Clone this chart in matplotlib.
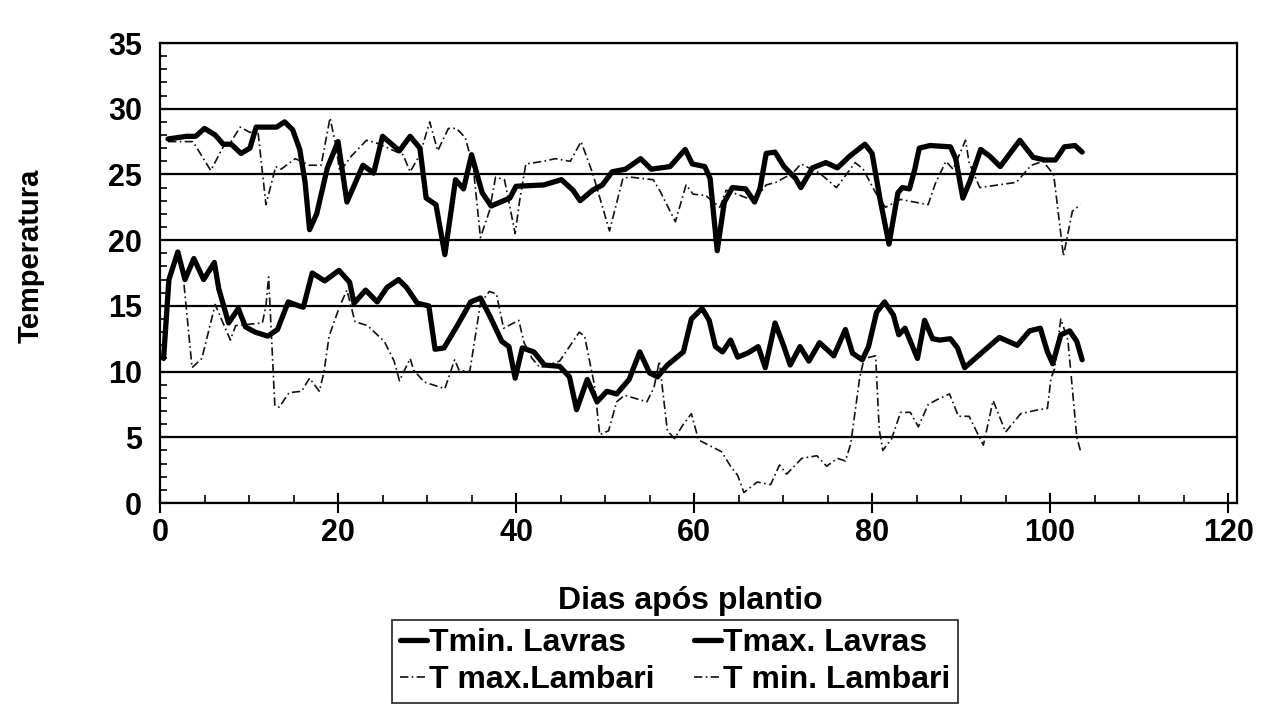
import matplotlib
matplotlib.use('Agg')
import matplotlib.pyplot as plt
from matplotlib.ticker import MultipleLocator

plt.rcParams['font.family'] = ['Liberation Sans', 'DejaVu Sans']
plt.rcParams['font.weight'] = 'bold'

# Tmax. Lavras (thick line, upper band)
tmax_lav_day = [0.9, 3.0, 4.0, 5.0, 6.2, 7.1, 8.0, 9.1, 10.1, 10.8, 13.1, 14.0, 14.9, 15.7,
                16.3, 16.8, 17.6, 18.8, 20.0, 21.0, 22.8, 24.0, 25.0, 26.9, 28.1, 29.2, 29.9,
                31.0, 32.0, 33.2, 34.1, 35.0, 36.2, 37.2, 39.3, 40.0, 43.1, 45.1, 46.4, 47.2,
                48.6, 49.7, 50.8, 52.3, 54.0, 55.2, 57.3, 59.0, 59.8, 61.2, 61.8, 62.6, 63.4,
                64.3, 65.8, 66.8, 67.4, 68.1, 69.1, 70.1, 71.4, 72.0, 73.3, 74.8, 76.1, 77.5,
                79.2, 80.0, 80.9, 81.9, 82.9, 83.4, 84.2, 84.8, 85.3, 86.5, 88.8, 89.4, 90.2,
                91.0, 92.2, 93.2, 94.4, 96.6, 98.1, 99.4, 100.6, 101.6, 102.8, 103.6]
tmax_lav = [27.7, 27.9, 27.9, 28.5, 28.0, 27.3, 27.3, 26.6, 27.0, 28.6, 28.6, 29.0, 28.4, 26.9,
            24.4, 20.8, 22.0, 25.5, 27.5, 22.9, 25.7, 25.1, 27.9, 26.8, 27.9, 27.0, 23.2,
            22.7, 18.9, 24.6, 23.9, 26.5, 23.6, 22.6, 23.2, 24.1, 24.2, 24.6, 23.8, 23.0,
            23.8, 24.2, 25.2, 25.4, 26.2, 25.4, 25.6, 26.9, 25.8, 25.6, 24.7, 19.2, 22.9,
            24.0, 23.9, 22.9, 23.9, 26.6, 26.7, 25.6, 24.7, 24.0, 25.5, 25.9, 25.5, 26.4,
            27.3, 26.6, 23.1, 19.7, 23.6, 24.0, 23.9, 25.4, 27.0, 27.2, 27.1, 26.2, 23.2,
            24.5, 26.9, 26.4, 25.6, 27.6, 26.3, 26.1, 26.1, 27.1, 27.2, 26.7]

# Tmin. Lavras (thick line, lower band)
tmin_lav_day = [0.4, 1.0, 2.0, 2.8, 3.8, 4.9, 6.1, 6.6, 7.7, 8.8, 9.6, 10.7, 12.1, 13.2, 14.4,
                15.6, 16.1, 17.1, 18.5, 20.1, 21.3, 21.8, 23.1, 24.4, 25.5, 26.8, 27.7, 28.9,
                30.2, 30.9, 31.9, 33.4, 34.9, 36.0, 37.0, 38.4, 39.2, 39.9, 40.7, 42.0, 43.2,
                44.9, 46.0, 46.8, 48.0, 49.1, 50.2, 51.3, 52.7, 53.9, 55.0, 55.9, 57.0, 58.8,
                59.7, 60.9, 61.7, 62.4, 63.2, 64.1, 64.9, 66.0, 67.2, 68.0, 69.1, 70.1, 70.8,
                71.9, 72.9, 74.1, 75.7, 77.0, 77.8, 78.9, 79.6, 80.5, 81.4, 82.4, 83.0, 83.7,
                85.1, 85.9, 86.8, 87.6, 88.8, 89.6, 90.4, 92.6, 94.3, 96.3, 97.7, 98.9, 99.7,
                100.3, 101.2, 102.2, 103.0, 103.6]
tmin_lav = [11.0, 17.0, 19.1, 17.0, 18.6, 17.0, 18.3, 16.3, 13.7, 14.8, 13.4, 13.0, 12.7, 13.2,
            15.3, 15.0, 14.9, 17.5, 16.9, 17.7, 16.8, 15.2, 16.2, 15.3, 16.4, 17.0, 16.4, 15.2,
            15.0, 11.7, 11.8, 13.5, 15.3, 15.6, 14.3, 12.3, 11.9, 9.5, 11.8, 11.5, 10.5,
            10.4, 9.6, 7.1, 9.4, 7.7, 8.5, 8.3, 9.4, 11.5, 9.9, 9.6, 10.5, 11.5,
            14.0, 14.8, 13.9, 11.9, 11.5, 12.4, 11.1, 11.4, 11.9, 10.3, 13.7, 11.9, 10.5,
            11.9, 10.8, 12.2, 11.2, 13.2, 11.4, 10.9, 11.9, 14.5, 15.3, 14.3, 12.8, 13.3,
            11.0, 13.9, 12.5, 12.4, 12.5, 11.8, 10.3, 11.6, 12.6, 12.0, 13.1, 13.3, 11.5,
            10.6, 12.8, 13.1, 12.3, 10.9]

# T max. Lambari (thin dash-dot, upper band)
tmax_lam_day = [0.9, 3.7, 5.7, 7.1, 7.9, 9.0, 10.1, 11.0, 11.9, 13.0, 13.6, 15.2, 16.8, 18.1,
                19.1, 19.7, 20.2, 21.5, 23.2, 24.3, 27.3, 28.1, 29.2, 30.3, 31.2, 32.4, 33.3,
                34.3, 35.2, 36.0, 37.0, 37.7, 38.7, 39.9, 40.4, 41.1, 43.1, 44.4, 46.1, 47.3,
                48.6, 50.5, 52.0, 52.8, 55.4, 56.2, 57.9, 59.1, 59.9, 61.3, 62.9, 63.6, 65.2,
                66.7, 68.1, 69.2, 71.1, 72.0, 74.1, 76.0, 78.1, 79.0, 80.4, 81.5, 83.2, 86.3,
                87.1, 88.3, 89.1, 90.5, 90.9, 92.1, 96.2, 97.9, 99.2, 100.4, 101.5, 102.5, 103.4]
tmax_lam = [27.5, 27.5, 25.3, 27.1, 27.4, 28.6, 28.2, 28.3, 22.7, 25.6, 25.4, 26.2, 25.7, 25.7,
            29.3, 27.4, 25.2, 26.4, 27.6, 27.4, 26.5, 25.2, 26.5, 29.0, 26.8, 28.5, 28.5,
            27.8, 25.5, 20.2, 22.2, 24.8, 24.6, 20.5, 23.0, 25.8, 26.0, 26.2, 26.0, 27.5,
            25.1, 20.7, 24.7, 24.8, 24.6, 23.7, 21.4, 24.2, 23.5, 23.4, 22.5, 23.8, 23.4,
            23.0, 24.2, 24.4, 25.1, 25.8, 25.1, 24.0, 25.9, 25.4, 23.6, 22.5, 23.1, 22.7,
            24.3, 26.0, 25.4, 27.6, 25.9, 24.0, 24.4, 25.7, 26.0, 25.0, 18.8, 22.2, 22.7]

# T min. Lambari (thin dash-dot, lower band)
tmin_lam_day = [2.7, 3.6, 4.7, 6.2, 7.9, 8.5, 11.5, 11.9, 12.2, 12.9, 13.4, 14.5, 15.9, 16.8,
                17.9, 18.4, 19.0, 20.2, 21.0, 21.9, 23.3, 25.2, 26.3, 26.9, 28.1, 28.5, 29.7,
                32.0, 33.1, 33.6, 34.8, 36.0, 37.0, 37.8, 38.6, 40.3, 40.9, 41.8, 42.7, 44.9,
                47.1, 47.7, 48.8, 49.4, 50.4, 51.3, 52.2, 54.7, 55.5, 56.1, 56.4, 57.0, 57.8,
                58.8, 59.7, 60.5, 63.1, 64.1, 64.9, 65.6, 67.1, 68.6, 69.6, 70.4, 72.1, 73.8,
                74.9, 76.1, 77.0, 77.6, 78.6, 79.1, 80.4, 80.8, 81.2, 82.2, 83.2, 84.3, 85.2,
                86.3, 87.4, 88.7, 89.7, 90.9, 92.5, 93.6, 95.0, 96.7, 98.7, 99.7, 100.1, 100.5,
                101.2, 102.0, 103.0, 103.4]
tmin_lam = [16.6, 10.3, 11.0, 15.1, 12.4, 13.5, 13.7, 15.0, 17.2, 7.4, 7.3, 8.4, 8.5, 9.5,
            8.5, 9.9, 12.7, 15.0, 16.2, 13.8, 13.5, 12.3, 10.8, 9.3, 11.0, 10.1, 9.2,
            8.7, 10.9, 10.1, 10.0, 15.2, 16.1, 15.9, 13.3, 13.9, 12.2, 11.0, 10.3, 10.8,
            13.0, 12.7, 9.0, 5.2, 5.5, 7.7, 8.2, 7.7, 8.8, 10.8, 9.0, 5.5, 4.9,
            6.0, 6.8, 4.8, 3.9, 2.8, 2.1, 0.8, 1.6, 1.4, 2.9, 2.2, 3.4, 3.6,
            2.8, 3.4, 3.2, 4.5, 9.5, 11.0, 11.2, 5.6, 4.0, 4.9, 6.9, 6.9, 5.8,
            7.5, 7.9, 8.3, 6.6, 6.6, 4.4, 7.8, 5.4, 6.8, 7.1, 7.2, 9.5, 10.2,
            14.0, 12.4, 5.0, 4.0]

fig = plt.figure(figsize=(12.62, 7.24), dpi=100)
ax = fig.add_axes([0.1268, 0.3052, 0.8534, 0.6354])

dashdot = (0, (5, 2, 1, 2))
l_tmax_lam, = ax.plot(tmax_lam_day, tmax_lam, color='#111111', lw=1.2, ls=dashdot,
                      label='T max.Lambari')
l_tmin_lam, = ax.plot(tmin_lam_day, tmin_lam, color='#111111', lw=1.2, ls=dashdot,
                      label='T min. Lambari')
l_tmin_lav, = ax.plot(tmin_lav_day, tmin_lav, color='black', lw=3.8,
                      solid_joinstyle='round', solid_capstyle='round', label='Tmin. Lavras')
l_tmax_lav, = ax.plot(tmax_lav_day, tmax_lav, color='black', lw=3.8,
                      solid_joinstyle='round', solid_capstyle='round', label='Tmax. Lavras')

ax.set_xlim(0, 121)
ax.set_ylim(0, 35)
ax.set_xticks(range(0, 121, 20))
ax.set_yticks(range(0, 36, 5))
ax.xaxis.set_minor_locator(MultipleLocator(5))
ax.yaxis.set_minor_locator(MultipleLocator(1))
ax.yaxis.grid(True, which='major', color='black', lw=1.6)
ax.set_axisbelow(True)

for s in ax.spines.values():
    s.set_linewidth(1.6)
    s.set_color('black')

ax.tick_params(axis='x', which='major', direction='inout', length=14, width=1.5,
               labelsize=22, pad=4)
ax.tick_params(axis='x', which='minor', direction='in', length=6, width=1.2)
ax.tick_params(axis='y', which='major', direction='in', length=6, width=1.5,
               labelsize=22, pad=13)
ax.tick_params(axis='y', which='minor', direction='in', length=5, width=1.2)

fig.text(0.024, 0.646, 'Temperatura', rotation=90, ha='center', va='center',
         fontsize=21, fontweight='bold')
fig.text(558 / 1262, 1 - 609 / 724, 'Dias após plantio', ha='left', va='baseline',
         fontsize=23, fontweight='bold')

leg = fig.legend([l_tmin_lav, l_tmax_lam, l_tmax_lav, l_tmin_lam],
                 ['Tmin. Lavras', 'T max.Lambari', 'Tmax. Lavras', 'T min. Lambari'],
                 ncol=2, loc='upper left', bbox_to_anchor=(392 / 1262, 1 - 620 / 724),
                 fontsize=23, frameon=True, fancybox=False, edgecolor='black',
                 handlelength=0.85, handletextpad=0.05, columnspacing=1.25,
                 labelspacing=0.22, borderpad=0.25, borderaxespad=0)
leg.get_frame().set_linewidth(1.3)

fig.savefig('out.png', dpi=100, facecolor='white')
